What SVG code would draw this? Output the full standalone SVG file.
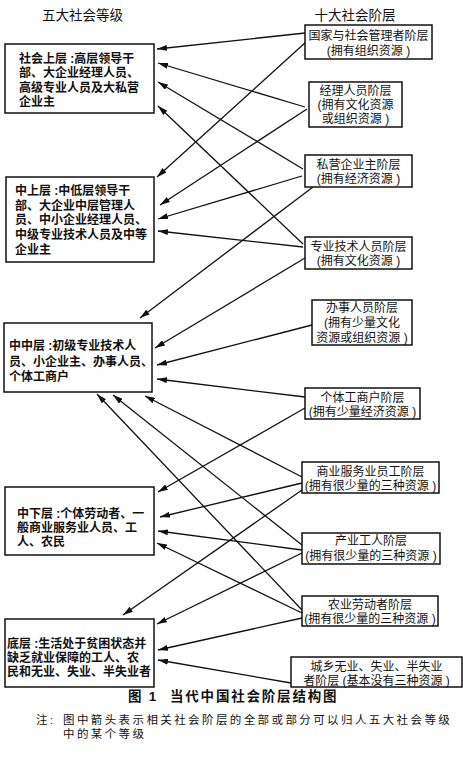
<svg xmlns="http://www.w3.org/2000/svg" width="463" height="779" viewBox="0 0 463 779">
<style>
text{font-family:"Liberation Sans","Noto Sans CJK SC",sans-serif;fill:#111}
.h{font-size:13.5px}
.l{font-size:12px;font-weight:bold}
.r{font-size:12px;text-anchor:middle}
.box{fill:#fff;stroke:#111;stroke-width:1.5}
.c line{stroke:#111;stroke-width:1.3;marker-end:url(#ah)}
.cap{font-size:13.5px;font-weight:bold;letter-spacing:1.8px}
.note{font-size:11.5px;letter-spacing:2.4px}
</style>
<defs>
<marker id="ah" markerWidth="10" markerHeight="6" refX="10" refY="3" orient="auto" markerUnits="userSpaceOnUse">
<path d="M0,0 L10,3 L0,6 z" fill="#111"/>
</marker>
</defs>
<rect width="463" height="779" fill="#fff"/>
<text class="h" x="82.5" y="20" text-anchor="middle">五大社会等级</text>
<text class="h" x="355" y="20" text-anchor="middle">十大社会阶层</text>

<g class="c" id="connectors">
<line x1="305" y1="33" x2="157" y2="49"/>
<line x1="305" y1="107" x2="158" y2="63"/>
<line x1="303" y1="169" x2="158" y2="82"/>
<line x1="303" y1="244" x2="158" y2="106"/>
<line x1="306" y1="42" x2="157" y2="177"/>
<line x1="307" y1="109" x2="160" y2="205"/>
<line x1="302" y1="176" x2="158" y2="219"/>
<line x1="303" y1="247" x2="158" y2="231"/>
<line x1="313" y1="187" x2="140" y2="318"/>
<line x1="305" y1="258" x2="155" y2="348"/>
<line x1="312" y1="325" x2="157" y2="365"/>
<line x1="305" y1="397" x2="157" y2="379"/>
<line x1="302" y1="477" x2="145" y2="396"/>
<line x1="302" y1="545" x2="113" y2="395"/>
<line x1="302" y1="610" x2="97" y2="394"/>
<line x1="305" y1="408" x2="158" y2="492"/>
<line x1="302" y1="483" x2="160" y2="517"/>
<line x1="302" y1="550" x2="158" y2="531"/>
<line x1="302" y1="613" x2="157" y2="543"/>
<line x1="302" y1="490" x2="123" y2="615"/>
<line x1="302" y1="553" x2="157" y2="624"/>
<line x1="302" y1="618" x2="158" y2="650"/>
<line x1="291" y1="683" x2="158" y2="660"/>
</g>

<g id="L1">
<rect class="box" x="5" y="44" width="149" height="69"/>
<text class="l" x="19" y="62.5">社会上层 :高层领导干</text>
<text class="l" x="19" y="77">部、大企业经理人员、</text>
<text class="l" x="19" y="91.5">高级专业人员及大私营</text>
<text class="l" x="19" y="106">企业主</text>
</g>
<g id="L2">
<rect class="box" x="6" y="177" width="148" height="85"/>
<text class="l" x="15" y="194.5">中上层 :中低层领导干</text>
<text class="l" x="15" y="209.5">部、大企业中层管理人</text>
<text class="l" x="15" y="223.5">员、中小企业经理人员、</text>
<text class="l" x="15" y="238.5">中级专业技术人员及中等</text>
<text class="l" x="15" y="253.5">企业主</text>
</g>
<g id="L3">
<rect class="box" x="4" y="323" width="148" height="69"/>
<text class="l" x="9" y="349.5">中中层 :初级专业技术人</text>
<text class="l" x="9" y="365.5">员、小企业主、办事人员、</text>
<text class="l" x="9" y="380.5">个体工商户</text>
</g>
<g id="L4">
<rect class="box" x="5" y="487" width="149" height="68"/>
<text class="l" x="17" y="517.5">中下层 :个体劳动者、一</text>
<text class="l" x="17" y="532">般商业服务业人员、工</text>
<text class="l" x="17" y="546">人、农民</text>
</g>
<g id="L5">
<rect class="box" x="5" y="619" width="149" height="68"/>
<text class="l" x="7" y="647.5">底层 :生活处于贫困状态并</text>
<text class="l" x="7" y="661.5">缺乏就业保障的工人、农</text>
<text class="l" x="7" y="675.5">民和无业、失业、半失业者</text>
</g>

<g id="R1">
<rect class="box" x="305" y="25" width="127" height="34"/>
<text class="r" x="368.5" y="39.5">国家与社会管理者阶层</text>
<text class="r" x="368.5" y="54.5">(拥有组织资源 )</text>
</g>
<g id="R2">
<rect class="box" x="309" y="82" width="93" height="45"/>
<text class="r" x="355.5" y="94.5">经理人员阶层</text>
<text class="r" x="355.5" y="108.5">(拥有文化资源</text>
<text class="r" x="355.5" y="122.5">或组织资源 )</text>
</g>
<g id="R3">
<rect class="box" x="305" y="155" width="107" height="32"/>
<text class="r" x="358.5" y="168.5">私营企业主阶层</text>
<text class="r" x="358.5" y="183">(拥有经济资源 )</text>
</g>
<g id="R4">
<rect class="box" x="305" y="237" width="107" height="32"/>
<text class="r" x="358.5" y="250.5">专业技术人员阶层</text>
<text class="r" x="358.5" y="264.5">(拥有文化资源 )</text>
</g>
<g id="R5">
<rect class="box" x="312" y="300" width="100" height="45"/>
<text class="r" x="362" y="312">办事人员阶层</text>
<text class="r" x="362" y="327">(拥有少量文化</text>
<text class="r" x="362" y="341.5">资源或组织资源 )</text>
</g>
<g id="R6">
<rect class="box" x="305" y="388" width="115" height="31"/>
<text class="r" x="362.5" y="401.5">个体工商户阶层</text>
<text class="r" x="362.5" y="416">(拥有少量经济资源 )</text>
</g>
<g id="R7">
<rect class="box" x="302" y="462" width="137" height="31"/>
<text class="r" x="370.5" y="475.5">商业服务业员工阶层</text>
<text class="r" x="370.5" y="489.5">(拥有很少量的三种资源 )</text>
</g>
<g id="R8">
<rect class="box" x="302" y="533" width="138" height="31"/>
<text class="r" x="371" y="545">产业工人阶层</text>
<text class="r" x="371" y="560">(拥有很少量的三种资源 )</text>
</g>
<g id="R9">
<rect class="box" x="302" y="596" width="136" height="30"/>
<text class="r" x="370" y="608.5">农业劳动者阶层</text>
<text class="r" x="370" y="622.5">(拥有很少量的三种资源 )</text>
</g>
<g id="R10">
<rect class="box" x="291" y="657" width="171" height="30"/>
<text class="r" x="376.5" y="671">城乡无业、失业、半失业</text>
<text class="r" x="376.5" y="685">者阶层 (基本没有三种资源 )</text>
</g>

<text class="cap" x="128" y="701">图 1</text>
<text class="cap" x="170" y="701">当代中国社会阶层结构图</text>
<text class="note" x="36" y="723.5">注:</text>
<text class="note" x="63" y="723.5">图中箭头表示相关社会阶层的全部或部分可以归人五大社会等级</text>
<text class="note" x="63" y="737.5">中的某个等级</text>
</svg>
